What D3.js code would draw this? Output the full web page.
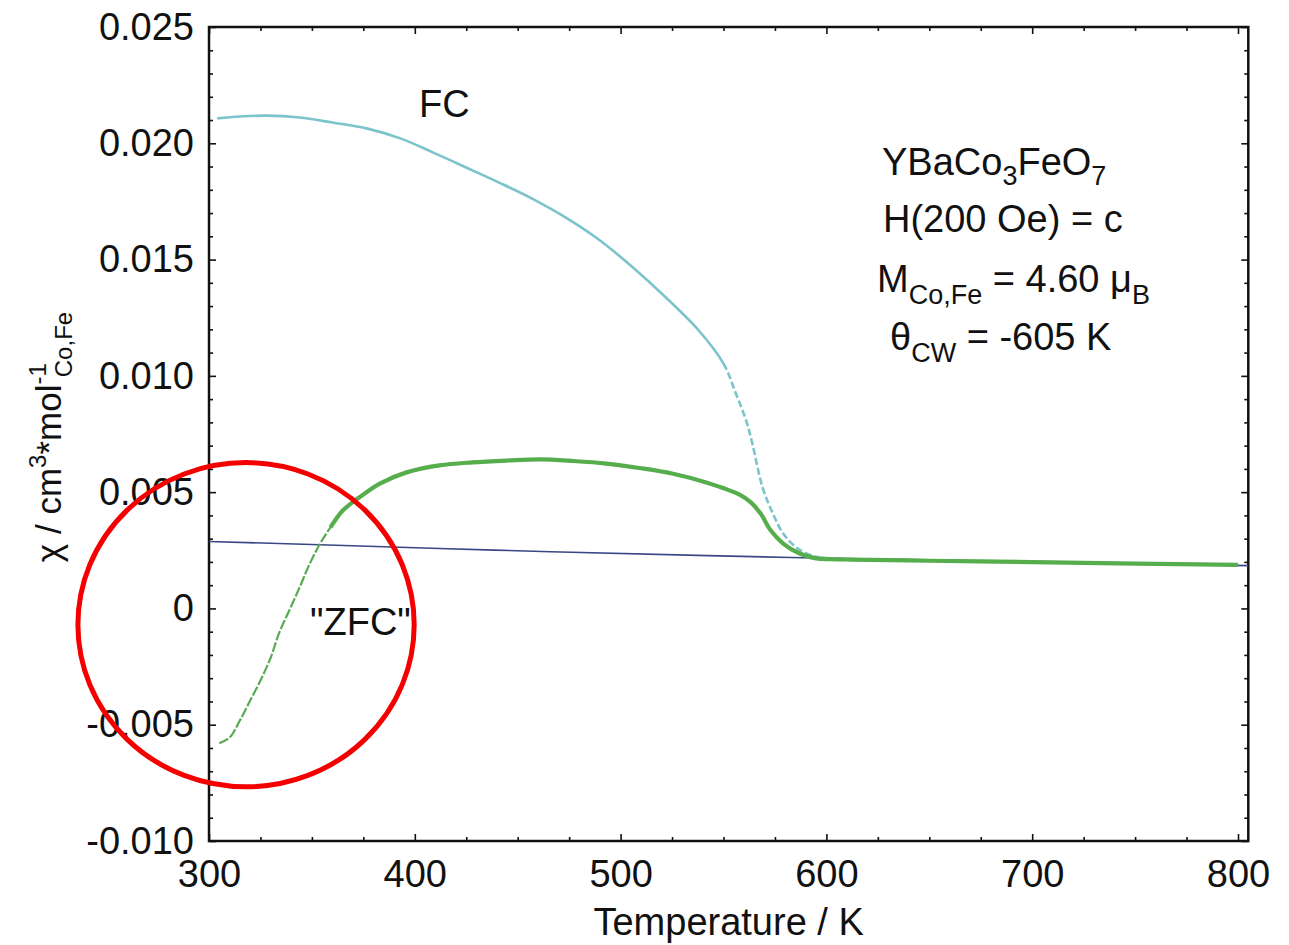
<!DOCTYPE html>
<html>
<head>
<meta charset="utf-8">
<title>YBaCo3FeO7 chi(T)</title>
<script src="https://d3js.org/d3.v7.min.js"></script>
<style>
    body { margin: 0; background: #fff; }
    svg { display: block; font-family: "Liberation Sans", Arial, sans-serif; }
    .axis text { font-size: 38px; fill: #111; font-family: "Liberation Sans", Arial, sans-serif; }
    .axis line { stroke: #111; stroke-width: 1.6; }
    .lbl { fill: #111; }
</style>
</head>
<body>
<svg width="1289" height="945"></svg>
<script>
// ticks
let xTicks = [300, 400, 500, 600, 700, 800];
let yTicks = [-0.010, -0.005, 0, 0.005, 0.010, 0.015, 0.020, 0.025];
let yTickLabels = ['-0.010', '-0.005', '0', '0.005', '0.010', '0.015', '0.020', '0.025'];

// FC curve
let fcT   = [304, 315, 328, 344, 360, 377, 393, 409, 425, 441, 457, 474, 490, 506, 522, 538, 550,
             556, 561, 564, 569, 574, 579, 586, 595, 602, 612, 650, 700, 750, 800];
let fcChi = [0.02107, 0.02115, 0.02119, 0.02111, 0.02089, 0.02063, 0.02021, 0.01960, 0.01896, 0.01831,
             0.01762, 0.01677, 0.01582, 0.01466, 0.01337, 0.01195, 0.01053, 0.00924, 0.00808, 0.00709,
             0.00520, 0.00408, 0.00322, 0.00258, 0.00222, 0.00216, 0.00212, 0.00207, 0.00200, 0.00194, 0.00188];

// "ZFC" curve
let zfcT   = [305, 310, 315, 320, 325, 330, 334, 339, 344, 349, 354, 359, 365, 373, 383, 396, 412, 428,
              445, 461, 477, 493, 509, 525, 542, 558, 563, 568, 573, 579, 587, 595, 602, 612, 650, 700, 750, 800];
let zfcChi = [-0.00580, -0.00555, -0.00482, -0.00396, -0.00310, -0.00211, -0.00107, -0.00009, 0.00090,
              0.00193, 0.00279, 0.00348, 0.00421, 0.00477, 0.00537, 0.00585, 0.00615, 0.00628, 0.00636,
              0.00641, 0.00634, 0.00623, 0.00604, 0.00580, 0.00540, 0.00488, 0.00458, 0.00408, 0.00335,
              0.00279, 0.00236, 0.00215, 0.00212, 0.00210, 0.00205, 0.00199, 0.00193, 0.00187];

// Curie-Weiss line
let cwT   = [300, 412, 466, 583, 700, 805];
let cwChi = [0.00288, 0.00258, 0.00244, 0.00219, 0.00199, 0.00184];

// red circle annotation (data units)
let circleCenter = [318, -0.0007];
let circleRadius = [81.7, 0.00697];

let svg = d3.select('svg');
let x = d3.scaleLinear().domain([300, 800]).range([209, 1238]);
let y = d3.scaleLinear().domain([-0.010, 0.025]).range([841, 27]);
let xMax = 805;
let fLeft = x(300), fRight = x(xMax), fTop = y(0.025), fBottom = y(-0.010);

let xMinor = d3.range(300, 801, 25).filter(d => d % 100 != 0);
let yMinor = d3.range(-10, 26, 1).filter(d => d % 5 != 0).map(d => d / 1000);

// axes, ticks pointing inwards
function noDomain(g) { g.select('.domain').remove(); }

svg.append('g').attr('class', 'axis')
    .attr('transform', `translate(0,${fBottom})`)
    .call(d3.axisBottom(x).tickValues(xTicks).tickSizeInner(-7).tickSizeOuter(0).tickPadding(19))
    .call(noDomain);
svg.append('g').attr('class', 'axis')
    .attr('transform', `translate(0,${fBottom})`)
    .call(d3.axisBottom(x).tickValues(xMinor).tickSizeInner(-4).tickSizeOuter(0).tickFormat(''))
    .call(noDomain);
svg.append('g').attr('class', 'axis')
    .attr('transform', `translate(0,${fTop})`)
    .call(d3.axisTop(x).tickValues(xTicks).tickSizeInner(-7).tickSizeOuter(0).tickFormat(''))
    .call(noDomain);
svg.append('g').attr('class', 'axis')
    .attr('transform', `translate(0,${fTop})`)
    .call(d3.axisTop(x).tickValues(xMinor).tickSizeInner(-4).tickSizeOuter(0).tickFormat(''))
    .call(noDomain);

svg.append('g').attr('class', 'axis')
    .attr('transform', `translate(${fLeft},0)`)
    .call(d3.axisLeft(y).tickValues(yTicks).tickSizeInner(-7).tickSizeOuter(0).tickPadding(15)
        .tickFormat((d, i) => yTickLabels[i]))
    .call(noDomain);
svg.append('g').attr('class', 'axis')
    .attr('transform', `translate(${fLeft},0)`)
    .call(d3.axisLeft(y).tickValues(yMinor).tickSizeInner(-4).tickSizeOuter(0).tickFormat(''))
    .call(noDomain);
svg.append('g').attr('class', 'axis')
    .attr('transform', `translate(${fRight},0)`)
    .call(d3.axisRight(y).tickValues(yTicks).tickSizeInner(-7).tickSizeOuter(0).tickFormat(''))
    .call(noDomain);
svg.append('g').attr('class', 'axis')
    .attr('transform', `translate(${fRight},0)`)
    .call(d3.axisRight(y).tickValues(yMinor).tickSizeInner(-4).tickSizeOuter(0).tickFormat(''))
    .call(noDomain);

svg.append('rect')
    .attr('x', fLeft).attr('y', fTop)
    .attr('width', fRight - fLeft).attr('height', fBottom - fTop)
    .attr('fill', 'none').attr('stroke', '#111').attr('stroke-width', 2.5);

// curves
let line = d3.line().x(d => x(d[0])).y(d => y(d[1])).curve(d3.curveCatmullRom.alpha(0.5));
let fc = fcT.map((t, i) => [t, fcChi[i]]);
let zfc = zfcT.map((t, i) => [t, zfcChi[i]]);
let cw = cwT.map((t, i) => [t, cwChi[i]]);

svg.append('path').datum(cw)
    .attr('d', line).attr('fill', 'none')
    .attr('stroke', '#3a4785').attr('stroke-width', 1.6);

// FC as one smooth path: solid, dashed through the steep drop, then solid again
let fcPath = svg.append('path').datum(fc)
    .attr('d', line).attr('fill', 'none')
    .attr('stroke', '#7cc4cc').attr('stroke-width', 2.6);
function lengthAtX(node, px) {
    let lo = 0, hi = node.getTotalLength();
    for (let k = 0; k < 40; k++) {
        let mid = (lo + hi) / 2;
        if (node.getPointAtLength(mid).x < px) lo = mid; else hi = mid;
    }
    return lo;
}
let fcNode = fcPath.node();
let fcTotal = fcNode.getTotalLength();
let l1 = lengthAtX(fcNode, x(550)), l2 = lengthAtX(fcNode, x(592));
let dashes = [l1, 0];
for (let s = l1; s < l2; s += 10) dashes.push(7, 3);
dashes.push(fcTotal, 0);
fcPath.attr('stroke-dasharray', dashes.join(' '));

svg.append('path').datum(zfc.filter(d => d[0] <= 365))
    .attr('d', line).attr('fill', 'none')
    .attr('stroke', '#5aaa55').attr('stroke-width', 2.2).attr('stroke-dasharray', '10,2');
svg.append('path').datum(zfc.filter(d => d[0] >= 359))
    .attr('d', line).attr('fill', 'none')
    .attr('stroke', '#55ad4c').attr('stroke-width', 4.2);

// labels
svg.append('text').attr('class', 'lbl')
    .attr('x', (fLeft + fRight) / 2).attr('y', 935)
    .attr('text-anchor', 'middle').attr('font-size', 38)
    .text('Temperature / K');

let yl = svg.append('text').attr('class', 'lbl')
    .attr('transform', 'translate(61,437) rotate(-90)')
    .attr('text-anchor', 'middle').attr('font-size', 35);
yl.append('tspan').text('\u03c7 / cm');
yl.append('tspan').attr('font-size', 24).attr('dy', -15).text('3');
yl.append('tspan').attr('dy', 15).text('*mol');
yl.append('tspan').attr('font-size', 24).attr('dy', -15).text('-1');
yl.append('tspan').attr('font-size', 24).attr('dy', 26).attr('dx', -14).text('Co,Fe');

svg.append('text').attr('class', 'lbl')
    .attr('x', 419).attr('y', 117).attr('font-size', 38).text('FC');
svg.append('text').attr('class', 'lbl')
    .attr('x', 310).attr('y', 635).attr('font-size', 38).text('"ZFC"');

let t1 = svg.append('text').attr('class', 'lbl').attr('x', 882).attr('y', 175).attr('font-size', 38);
t1.append('tspan').text('YBaCo');
t1.append('tspan').attr('font-size', 27).attr('dy', 10).text('3');
t1.append('tspan').attr('dy', -10).text('FeO');
t1.append('tspan').attr('font-size', 27).attr('dy', 10).text('7');

svg.append('text').attr('class', 'lbl').attr('x', 883).attr('y', 232).attr('font-size', 38)
    .text('H(200 Oe) = c');

let t3 = svg.append('text').attr('class', 'lbl').attr('x', 877).attr('y', 292).attr('font-size', 38);
t3.append('tspan').text('M');
t3.append('tspan').attr('font-size', 27).attr('dy', 12).text('Co,Fe');
t3.append('tspan').attr('dy', -12).text(' = 4.60 \u03bc');
t3.append('tspan').attr('font-size', 27).attr('dy', 12).text('B');

let t4 = svg.append('text').attr('class', 'lbl').attr('x', 890).attr('y', 350).attr('font-size', 38);
t4.append('tspan').text('\u03b8');
t4.append('tspan').attr('font-size', 27).attr('dy', 12).text('CW');
t4.append('tspan').attr('dy', -12).text(' = -605 K');

// red circle
svg.append('ellipse')
    .attr('cx', x(circleCenter[0])).attr('cy', y(circleCenter[1]))
    .attr('rx', x(circleCenter[0] + circleRadius[0]) - x(circleCenter[0]))
    .attr('ry', y(circleCenter[1] - circleRadius[1]) - y(circleCenter[1]))
    .attr('fill', 'none').attr('stroke', '#f40000').attr('stroke-width', 5);
</script>
</body>
</html>
